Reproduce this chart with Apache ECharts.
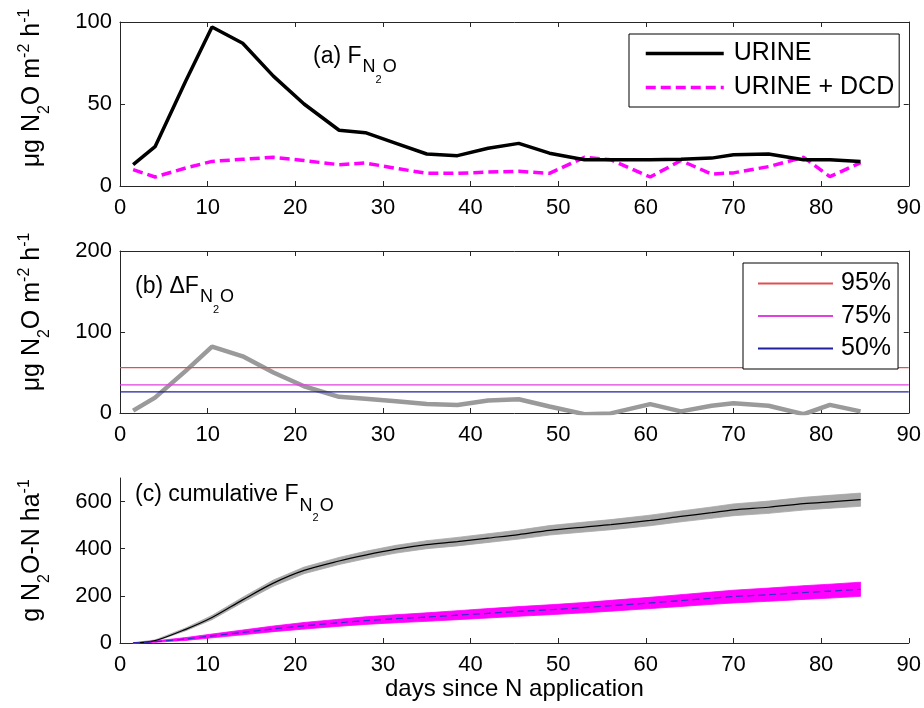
<!DOCTYPE html>
<html><head><meta charset="utf-8">
<script src="https://cdn.jsdelivr.net/npm/echarts@6/dist/echarts.min.js"></script>
<style>html,body{margin:0;padding:0;background:#fff}#c{width:924px;height:708px}</style>
</head><body><div id="c"></div>
<script>
// ---------- data ----------
const days      = [1.5, 4, 7.5, 10.5, 14, 17.5, 21, 25, 28, 31.5, 35, 38.5, 42, 45.5, 49, 53, 56, 60.5, 64, 67.5, 70, 74, 78, 81, 84.5];
const urine     = [13, 24, 64, 97, 87, 67, 50, 34, 32.5, 26, 19.5, 18.5, 23, 26, 20, 16, 16, 16, 16.3, 17, 19, 19.5, 16, 16, 15];
const urineDcd  = [10, 5.5, 11, 15, 16.3, 17.5, 15.5, 13, 14, 10.8, 7.7, 7.7, 8.5, 9, 7.7, 17.5, 16, 5.5, 15.5, 7.3, 8, 11.8, 17.5, 5.7, 14.2];
const deltaF    = [3, 19, 52, 82, 70, 50, 33, 20, 17.5, 14.5, 11, 10, 15.5, 17, 8, -1.5, -0.5, 11, 2, 9, 12, 9, -1.5, 10, 2];
const pctNames  = ['95%', '75%', '50%'];
const pctValues = [56, 34.6, 26];
const cumUrine      = [0, 10, 58, 108, 183, 254, 308, 348, 373, 398, 417, 430, 445, 460, 478, 492, 502, 520, 537, 553, 565, 576, 591, 599, 608];
const cumUrineHalf  = [1, 3, 6, 9, 11, 13, 14, 15, 16, 16.5, 17, 18, 18.5, 19, 20, 21, 21.5, 22.5, 23, 24, 25, 26, 27, 27.5, 28];
const cumDcd        = [0, 6, 17, 30, 45, 60, 73, 86, 95, 103, 110, 118, 126, 134, 141, 150, 158, 170, 180, 190, 197, 205, 214, 220, 228];
const cumDcdHalf    = [1, 3, 6, 8, 10, 12, 14, 15, 16, 17, 18, 19, 20, 20.5, 21, 22, 23, 24, 25, 26, 27, 28, 29, 29.5, 30];
const xTicks  = [0, 10, 20, 30, 40, 50, 60, 70, 80, 90];
const yTicksA = [0, 50, 100];
const yTicksB = [0, 100, 200];
const yTicksC = [0, 200, 400, 600];

// ---------- helpers ----------
const FONT = 'Liberation Sans, Arial, Helvetica, sans-serif';
const AX = '#262626';
const zip = (xs, ys) => xs.map((x, i) => [x, ys[i]]);
const grids = [
  {left: 120, top: 22, width: 790, height: 164},
  {left: 120, top: 251, width: 790, height: 162},
  {left: 120, top: 478, width: 790, height: 165}
];
function xAx(g, pos, showLabel, extra) {
  return Object.assign({
    type: 'value', gridIndex: g, position: pos,
    min: xTicks[0], max: xTicks[xTicks.length - 1], interval: xTicks[1] - xTicks[0],
    axisLine: {show: true, onZero: false, lineStyle: {color: AX, width: 1}},
    axisTick: {show: true, inside: true, length: 5, lineStyle: {color: AX}},
    axisLabel: {show: showLabel, fontSize: 22, color: '#000', margin: 11, fontFamily: FONT},
    splitLine: {show: false}
  }, extra || {});
}
function yAx(g, pos, ticks, max, showLabel, extra) {
  return Object.assign({
    type: 'value', gridIndex: g, position: pos,
    min: ticks[0], max: max, interval: ticks[1] - ticks[0],
    axisLine: {show: true, onZero: false, lineStyle: {color: AX, width: 1}},
    axisTick: {show: true, inside: true, length: 5, lineStyle: {color: AX}, customValues: ticks},
    axisLabel: {show: showLabel, fontSize: 22, color: '#000', margin: 8, fontFamily: FONT, customValues: ticks},
    splitLine: {show: false}
  }, extra || {});
}
const nameRich = {
  t: {fontSize: 25, fontFamily: FONT, fontWeight: 'normal', color: '#000', verticalAlign: 'top', padding: [8, 0, 0, 0]},
  p: {fontSize: 16, fontFamily: FONT, fontWeight: 'normal', color: '#000', verticalAlign: 'top', padding: [4.5, 0, 0, 0]},
  s: {fontSize: 16, fontFamily: FONT, fontWeight: 'normal', color: '#000', verticalAlign: 'top', padding: [25, 0, 0, 0]}
};
function yName(text, shift) {
  return {
    name: text, nameLocation: 'middle', nameGap: 67,
    nameTextStyle: {rich: nameRich, padding: [0, 0, 0, shift * 2]}
  };
}
const titleRich = {
  m: {fontSize: 23, fontFamily: FONT, fontWeight: 'normal', color: '#000', verticalAlign: 'top', padding: [0, 0, 0, 0]},
  s: {fontSize: 18, fontFamily: FONT, fontWeight: 'normal', color: '#000', verticalAlign: 'top', padding: [13.5, 0, 0, 1]},
  ss: {fontSize: 11, fontFamily: FONT, fontWeight: 'normal', color: '#000', verticalAlign: 'top', padding: [29, 0, 0, 0]}
};
const titleStyle = {fontWeight: 'normal', fontFamily: FONT, rich: titleRich};
const fluxName = '{t|μg N}{s|2}{t|O m}{p|-2}{t| h}{p|-1}';
const pctColors = ['#e05050', '#e040e0', '#2020a0'];

const series = [
  {name: 'URINE', type: 'line', xAxisIndex: 0, yAxisIndex: 0, data: zip(days, urine), symbol: 'none',
   color: '#000', lineStyle: {color: '#000', width: 3.5}, z: 4},
  {name: 'URINE + DCD', type: 'line', xAxisIndex: 0, yAxisIndex: 0, data: zip(days, urineDcd), symbol: 'none',
   color: '#ff00ff', lineStyle: {color: '#ff00ff', width: 3.5, type: [10, 5]}, z: 3},
  {name: 'ΔF', type: 'line', xAxisIndex: 2, yAxisIndex: 2, data: zip(days, deltaF), symbol: 'none',
   color: '#999', lineStyle: {color: '#9a9a9a', width: 4.5}, z: 2}
];
pctNames.forEach((n, i) => {
  series.push({name: n, type: 'line', xAxisIndex: 2, yAxisIndex: 2, symbol: 'none',
    data: [[xTicks[0], pctValues[i]], [xTicks[xTicks.length - 1], pctValues[i]]],
    color: pctColors[i], lineStyle: {color: pctColors[i], width: 1.2}, z: 3});
});
// uncertainty band: one quadrilateral per interval, drawn through the axes
function band(mid, half, col) {
  const data = [];
  for (let i = 0; i < days.length - 1; i++) {
    data.push([days[i], mid[i] - half[i], mid[i] + half[i],
               days[i + 1], mid[i + 1] - half[i + 1], mid[i + 1] + half[i + 1]]);
  }
  return {
    type: 'custom', xAxisIndex: 4, yAxisIndex: 4, silent: true, z: 1, data: data,
    encode: {x: [0, 3], y: [1, 2, 4, 5]},
    renderItem: function (params, api) {
      const pts = [
        api.coord([api.value(0), api.value(1)]),
        api.coord([api.value(3), api.value(4)]),
        api.coord([api.value(3), api.value(5)]),
        api.coord([api.value(0), api.value(2)])
      ];
      return {type: 'polygon', shape: {points: pts}, style: {fill: col, stroke: col, lineWidth: 0.8}};
    }
  };
}
series.push(band(cumUrine, cumUrineHalf, '#a8a8a8'));
series.push(band(cumDcd, cumDcdHalf, '#ff00ff'));
series.push({name: 'cum URINE', type: 'line', xAxisIndex: 4, yAxisIndex: 4, data: zip(days, cumUrine), symbol: 'none',
  smooth: 0.3, lineStyle: {color: '#000', width: 1.2}, z: 5});
series.push({name: 'cum URINE + DCD', type: 'line', xAxisIndex: 4, yAxisIndex: 4, data: zip(days, cumDcd), symbol: 'none',
  smooth: 0.3, lineStyle: {color: '#3030c8', width: 1.2, type: [7, 4]}, z: 5});

const option = {
  animation: false,
  backgroundColor: '#fff',
  grid: grids,
  title: [
    {left: 313, top: 45, padding: 0, text: '{m|(a) F}{s|N}{ss|2}{s|O}', textStyle: titleStyle},
    {left: 135, top: 275, padding: 0, text: '{m|(b) ΔF}{s|N}{ss|2}{s|O}', textStyle: titleStyle},
    {left: 135, top: 483.5, padding: 0, text: '{m|(c) cumulative F}{s|N}{ss|2}{s|O}', textStyle: titleStyle}
  ],
  legend: [
    {data: ['URINE', 'URINE + DCD'], orient: 'vertical', left: 629, top: 34, padding: [5.5, 5, 5.5, 15],
     itemWidth: 78, itemHeight: 14, itemGap: 6, selectedMode: false, itemStyle: {opacity: 0},
     lineStyle: {width: 3.5},
     textStyle: {fontSize: 25, lineHeight: 28, fontFamily: FONT, color: '#000', padding: [0, 0, 0, 5]},
     backgroundColor: '#fff', borderColor: '#000', borderWidth: 1, borderRadius: 0},
    {data: pctNames, orient: 'vertical', left: 743, top: 263, padding: [6.5, 7, 6.5, 14],
     itemWidth: 75, itemHeight: 14, itemGap: 4.5, selectedMode: false, itemStyle: {opacity: 0},
     textStyle: {fontSize: 25, lineHeight: 28, fontFamily: FONT, color: '#000', padding: [0, 0, 0, 3]},
     backgroundColor: '#fff', borderColor: '#000', borderWidth: 1, borderRadius: 0}
  ],
  xAxis: [
    xAx(0, 'bottom', true),
    xAx(0, 'top', false),
    xAx(1, 'bottom', true),
    xAx(1, 'top', false),
    xAx(2, 'bottom', true, {name: 'days since N application', nameLocation: 'middle', nameGap: 32,
      nameTextStyle: {fontSize: 24, fontFamily: FONT, color: '#000'}})
  ],
  yAxis: [
    yAx(0, 'left', yTicksA, 100, true, yName(fluxName, 16)),
    yAx(0, 'right', yTicksA, 100, false),
    yAx(1, 'left', yTicksB, 200, true, yName(fluxName, 20)),
    yAx(1, 'right', yTicksB, 200, false),
    yAx(2, 'left', yTicksC, 700, true, yName('{t|g N}{s|2}{t|O-N ha}{p|-1}', 10))
  ],
  series: series
};
const chart = echarts.init(document.getElementById('c'), null, {renderer: 'canvas'});
chart.setOption(option);
</script>
</body></html>
